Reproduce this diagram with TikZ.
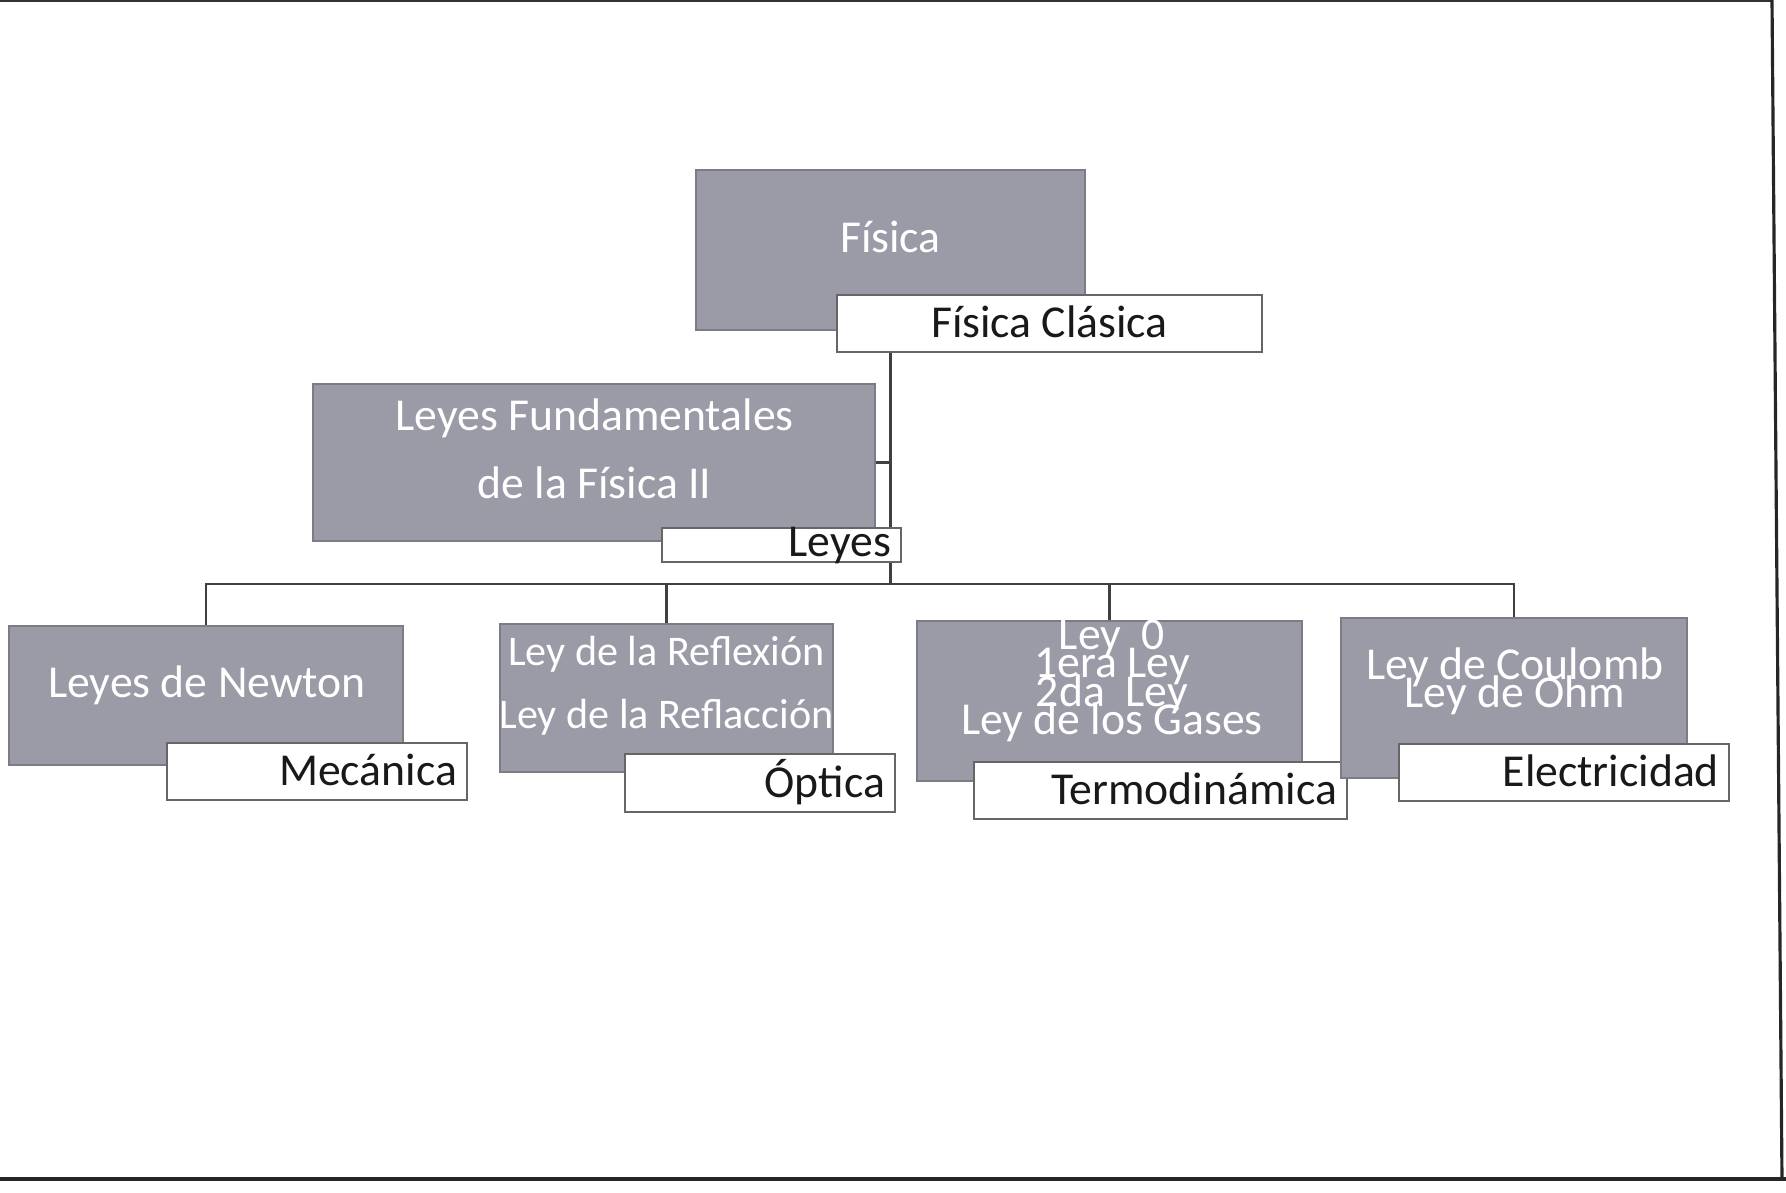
\documentclass[tikz,border=0pt]{standalone}
\usepackage{fontspec}
\setmainfont{Carlito}
\usetikzlibrary{backgrounds}
\definecolor{cajagris}{RGB}{155,155,168}
\newcommand\sinlimite{\lineskiplimit-100pt\lineskip0pt\relax}
\tikzset{
  bloque/.style={fill=cajagris, draw=cajagris!80!black, line width=0.3pt, inner sep=0pt},
  textobloque/.style={text=white, align=center, inner sep=0pt, font=\fontsize{13}{15.6}\selectfont},
  rotulo/.style={draw=black!60, fill=white, line width=0.6pt, text=black!90,
    font=\fontsize{13}{15.6}\selectfont, inner xsep=1mm, inner ysep=0pt,
    text height=9.5pt, text depth=1.5pt, align=right},
  rama/.style={draw=black!75, line width=0.7pt}
}

\begin{document}
\begin{tikzpicture}
  \useasboundingbox (0,0) rectangle (17.86,11.93);
  \draw[black!80, line width=0.4pt] (0,11.92) -- (17.73,11.92);
  \draw[black!85, line width=0.9pt] (17.72,11.93) -- (17.82,0.14);
  \draw[black!85, line width=0.9pt] (0,0.14) -- (17.86,0.14);

  \node[bloque, minimum width=3.89cm, minimum height=1.60cm] (fisica) at (8.905,9.43) {};
  \node[textobloque, anchor=base] (fisicaT) at (8.905,9.40) {Física};
  \node[rotulo, align=center, minimum width=4.25cm, minimum height=0.57cm] (clasica) at (10.495,8.695) {Física Clásica};

  \node[bloque, minimum width=5.62cm, minimum height=1.57cm] (fundamentales) at (5.94,7.305) {};
  \node[textobloque, font={\fontsize{13}{19.5}\selectfont\sinlimite}] (fundamentalesT) at (5.946,7.44) {Leyes Fundamentales\\de la Física II};
  \node[rotulo, text width=2.19cm, minimum height=0.34cm, text height=8pt, text depth=1.2pt] (leyes) at (7.815,6.48) {Leyes};

  \node[bloque, minimum width=3.94cm, minimum height=1.39cm] (newton) at (2.06,4.975) {};
  \node[textobloque, anchor=base] (newtonT) at (2.07,4.95) {Leyes de Newton};
  \node[rotulo, text width=2.80cm, minimum height=0.57cm] (mecanica) at (3.17,4.215) {Mecánica};

  \node[bloque, minimum width=3.33cm, minimum height=1.48cm] (reflexion) at (6.665,4.95) {};
  \node[textobloque, font={\fontsize{12}{17.9}\selectfont\sinlimite}] (reflexionT) at (6.665,5.07) {Ley de la Reflexión\\Ley de la Reflacción};
  \node[rotulo, text width=2.50cm, minimum height=0.58cm] (optica) at (7.60,4.10) {Óptica};

  \node[bloque, minimum width=3.85cm, minimum height=1.60cm] (gases) at (11.095,4.92) {};
  \node[textobloque, font={\fontsize{13}{8.1}\selectfont\sinlimite}] (gasesT) at (11.12,5.12) {Ley\ \ 0\\1era Ley\\2da\ \ Ley\\Ley de los Gases};
  \node[rotulo, text width=3.53cm, minimum height=0.57cm] (termo) at (11.605,4.025) {Termodinámica};

  \node[bloque, minimum width=3.46cm, minimum height=1.60cm] (coulomb) at (15.14,4.95) {};
  \node[textobloque, font={\fontsize{13}{8}\selectfont\sinlimite}] (coulombT) at (15.15,5.12) {Ley de Coulomb\\Ley de Ohm};
  \node[rotulo, text width=3.10cm, minimum height=0.57cm] (electricidad) at (15.64,4.205) {Electricidad};

  \coordinate (bus) at (8.905,6.09);

  \begin{pgfonlayer}{background}
    \draw[rama] (fisica.south |- clasica.south) -- (bus);
    \draw[rama] (fundamentales.east) -- (fundamentales.east -| bus);
    \draw[rama] (newton.north) |- (bus) -| (coulomb.north);
    \draw[rama] (reflexion.north) -- (reflexion.north |- bus);
    \draw[rama] (gases.north) -- (gases.north |- bus);
  \end{pgfonlayer}
\end{tikzpicture}
\end{document}
